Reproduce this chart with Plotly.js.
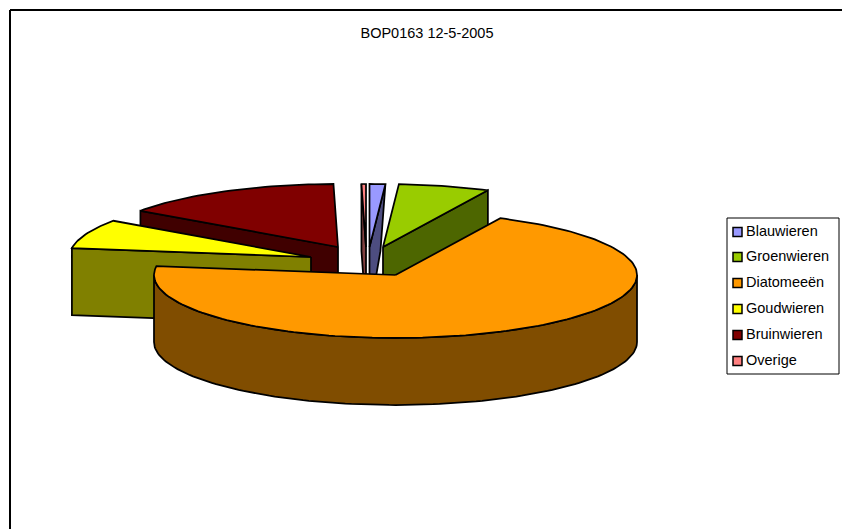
<!DOCTYPE html>
<html>
<head>
<meta charset="utf-8">
<script src="https://cdn.plot.ly/plotly-3.0.1.min.js"></script>
<style>html,body{margin:0;padding:0;background:#fff}#chart{width:842px;height:529px}</style>
</head>
<body>
<div id="chart"></div>
<script>
// Algal groups at station BOP0163 and their share of the total (percent)
const categories = ['Blauwieren', 'Groenwieren', 'Diatomeeën', 'Goudwieren', 'Bruinwieren', 'Overige'];
const shares = [1.05, 6.1, 70.1, 7.5, 14.95, 0.3];
const chartTitle = 'BOP0163 12-5-2005';

// Slice colours: top face and the darker side wall
const topColors = ['#9999ff', '#99cc00', '#ff9900', '#ffff00', '#800000', '#ff8080'];
const wallColors = ['#4d4d80', '#4d6600', '#804d00', '#808000', '#400000', '#804040'];

// Tilted pie geometry in plot units
const radiusX = 241.5, radiusY = 63, depth = 67;
const hubs = [[369.5, 247], [383, 247], [395.5, 275], [311, 257], [338, 247], [366, 247]];
const wallLean = [-5, 0, 0, 0, 0, 0];
const drawOrder = [5, 0, 4, 1, 3, 2];

// Legend placement
const legendBox = {x0: 727, x1: 839, y0: 218, y1: 374};
const legendX = 737.5;
const legendRows = [232, 257, 283, 309, 335, 361];

const rim = (hub, deg) => {
  const a = deg * Math.PI / 180;
  return [hub[0] + radiusX * Math.sin(a), hub[1] - radiusY * Math.cos(a)];
};

const total = shares.reduce((s, v) => s + v, 0);
let running = 0;
const spans = shares.map(v => {
  const from = running / total * 360;
  running += v;
  return [from, running / total * 360];
});

const polygon = (pts, fill, name) => ({
  type: 'scatter', mode: 'lines', name,
  x: pts.map(p => p[0]), y: pts.map(p => p[1]),
  fill: 'toself', fillcolor: fill,
  line: {color: '#000', width: 1.75},
  hoverinfo: 'skip', showlegend: false
});

const traces = [];
drawOrder.forEach(i => {
  const hub = hubs[i], [from, to] = spans[i];
  const arc = [];
  const steps = Math.max(2, Math.ceil((to - from) / 1.5));
  for (let s = 0; s <= steps; s++) arc.push(rim(hub, from + (to - from) * s / steps));

  // Radial cut walls that face the viewer
  const addCut = (deg) => {
    const p = rim(hub, deg);
    traces.push(polygon([hub, p, [p[0] + wallLean[i], p[1] + depth], [hub[0], hub[1] + depth], hub],
      wallColors[i], categories[i]));
  };
  if (Math.sin(from * Math.PI / 180) < -1e-6) addCut(from);
  if (Math.sin(to * Math.PI / 180) > 1e-6) addCut(to);

  // Outer curved wall, only the part on the front half of the ellipse
  const lo = Math.max(from, 90), hi = Math.min(to, 270);
  if (hi > lo) {
    const front = [];
    const n = Math.ceil((hi - lo) / 1.5);
    for (let s = 0; s <= n; s++) front.push(rim(hub, lo + (hi - lo) * s / n));
    const lower = front.map(p => [p[0], p[1] + depth]).reverse();
    const wall = front.concat(lower);
    wall.push(front[0]);
    traces.push(polygon(wall, wallColors[i], categories[i]));
  }

  traces.push(polygon([hub].concat(arc, [hub]), topColors[i], categories[i]));
});

// Legend swatches and labels
traces.push({
  type: 'scatter', mode: 'markers',
  x: categories.map(() => legendX), y: legendRows,
  marker: {symbol: 'square', size: 9, color: topColors, line: {color: '#000', width: 1.5}},
  hoverinfo: 'skip', showlegend: false
});

const layout = {
  width: 842, height: 529,
  margin: {l: 0, r: 0, t: 0, b: 0},
  paper_bgcolor: '#fff', plot_bgcolor: '#fff',
  showlegend: false, hovermode: false,
  font: {family: '"Liberation Sans", Arial, sans-serif', size: 14.5, color: '#000'},
  title: {text: chartTitle, x: 427 / 842, xanchor: 'center', y: 1 - 33 / 529, yanchor: 'middle',
          font: {size: 14.5, color: '#000'}},
  xaxis: {range: [0, 842], visible: false, fixedrange: true},
  yaxis: {range: [529, 0], visible: false, fixedrange: true},
  shapes: [
    {type: 'line', xref: 'x', yref: 'y', x0: 10, x1: 842, y0: 10, y1: 10, line: {color: '#000', width: 2}, layer: 'below'},
    {type: 'line', xref: 'x', yref: 'y', x0: 10, x1: 10, y0: 10, y1: 529, line: {color: '#000', width: 2}, layer: 'below'},
    {type: 'rect', xref: 'x', yref: 'y', x0: legendBox.x0, x1: legendBox.x1, y0: legendBox.y0, y1: legendBox.y1,
     line: {color: '#000', width: 1}, fillcolor: '#fff', layer: 'below'}
  ],
  annotations: categories.map((c, i) => ({
    text: c, xref: 'x', yref: 'y', x: 747, y: legendRows[i] - 1,
    xanchor: 'left', yanchor: 'middle', showarrow: false, borderpad: 0, borderwidth: 0, xshift: -1
  }))
};

Plotly.newPlot('chart', traces, layout, {displayModeBar: false, staticPlot: true});
</script>
</body>
</html>
